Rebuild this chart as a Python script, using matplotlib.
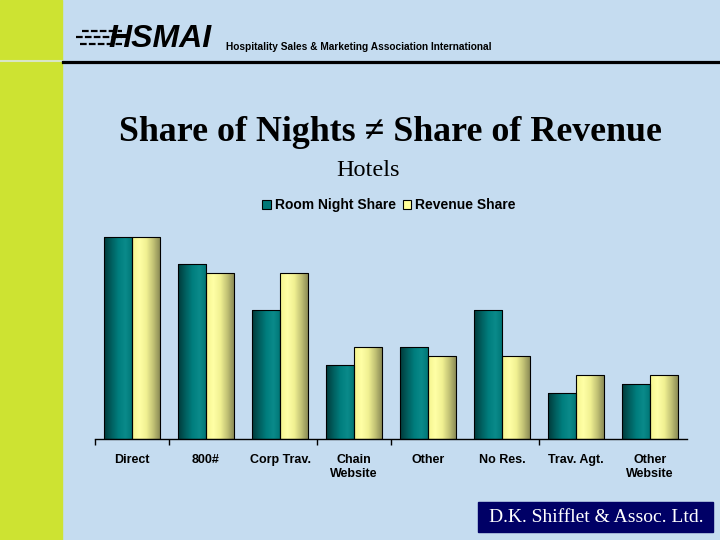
import numpy as np
import matplotlib.pyplot as plt
from matplotlib.colors import LinearSegmentedColormap
from matplotlib.patches import Rectangle, Patch
from matplotlib.lines import Line2D

categories = ["Direct", "800#", "Corp Trav.", "Chain\nWebsite", "Other",
              "No Res.", "Trav. Agt.", "Other\nWebsite"]
room_night_share = [22, 19, 14, 8, 10, 14, 5, 6]
revenue_share = [22, 18, 18, 10, 9, 9, 7, 7]
series_names = ["Room Night Share", "Revenue Share"]

BG = "#C5DCF0"
GREEN = "#CDE332"
TEAL = "#007878"
YELLOW = "#FFFF99"

teal_cmap = LinearSegmentedColormap.from_list(
    "teal", ["#003A3A", "#005E5E", "#007E7E", "#0A8A8A", "#007474"])
yellow_cmap = LinearSegmentedColormap.from_list(
    "yel", ["#F4F48E", "#FFFFA6", "#F0F092", "#C0C074", "#858552"])


def fig_px(x, y):
    return x / 720, 1 - y / 540


def gradient_bars(ax, bars, cmap):
    grad = np.linspace(0, 1, 64).reshape(1, -1)
    for b in bars:
        x0, w, h = b.get_x(), b.get_width(), b.get_height()
        im = ax.imshow(grad, cmap=cmap, extent=[x0, x0 + w, 0, h],
                       aspect="auto", zorder=2, interpolation="bilinear")
        im.set_clip_path(b)


def draw_header(fig):
    fig.patches.append(Rectangle((0, 0), 62 / 720, 1, transform=fig.transFigure,
                                 color=GREEN, zorder=0))
    fig.add_artist(Line2D([0, 62 / 720], [1 - 61 / 540] * 2, lw=1.5,
                          color="#D9E6C6"))
    fig.add_artist(Line2D([63 / 720, 1], [1 - 61.5 / 540] * 2, lw=2.3,
                          color="black"))
    for yy, x0 in [(31, 82), (37, 76), (44, 80)]:
        fig.add_artist(Line2D([x0 / 720, 122 / 720], [1 - yy / 540] * 2,
                              lw=1.6, color="black", ls=(0, (3, 1))))
    x, y = fig_px(108, 39)
    fig.text(x, y, "HSMAI", fontsize=23, weight="heavy", style="italic",
             family="Liberation Sans", va="center", ha="left")
    x, y = fig_px(226, 47)
    fig.text(x, y, "Hospitality Sales & Marketing Association International",
             fontsize=7.3, weight="bold", family="Liberation Sans",
             va="center", ha="left")


def draw_chart(fig):
    ax = fig.add_axes([95 / 720, 1 - 439 / 540, 592 / 720, 220.8 / 540])
    ax.set_facecolor("none")
    x = np.arange(len(categories))
    w = 0.385
    b1 = ax.bar(x - w / 2, room_night_share, w, facecolor="none",
                edgecolor="black", lw=0.8, zorder=3)
    b2 = ax.bar(x + w / 2, revenue_share, w, facecolor="none",
                edgecolor="black", lw=0.8, zorder=3)
    gradient_bars(ax, b1, teal_cmap)
    gradient_bars(ax, b2, yellow_cmap)
    ax.set_xlim(-0.5, len(categories) - 0.5)
    ax.set_ylim(0, 24)
    for s in ["top", "right", "left"]:
        ax.spines[s].set_visible(False)
    ax.spines["bottom"].set_linewidth(1)
    ax.set_yticks([])
    ax.set_xticks(x)
    ax.set_xticklabels(categories, fontsize=9, weight="bold",
                       family="Liberation Sans", linespacing=1.2, va="top")
    ax.tick_params(axis="x", which="major", length=0, pad=11)
    ax.set_xticks([-0.5, 0.5, 2.5, 3.5, 5.5], minor=True)
    ax.tick_params(axis="x", which="minor", length=4, width=1, direction="out")

    handles = [Patch(facecolor=TEAL, edgecolor="black", lw=0.8),
               Patch(facecolor=YELLOW, edgecolor="black", lw=0.8)]
    fig.legend(handles, series_names, loc="center", bbox_to_anchor=fig_px(389, 205),
               ncol=2, frameon=False, handlelength=0.6, handleheight=0.6,
               handletextpad=0.3, columnspacing=0.5,
               prop={"family": "Liberation Sans", "weight": "bold", "size": 10})
    return ax


def draw_titles(fig):
    serif = ["Liberation Serif", "DejaVu Serif"]
    x, y = fig_px(390, 133)
    fig.text(x, y, "Share of Nights \u2260 Share of Revenue", fontsize=25.8,
             weight="bold", family=serif, ha="center", va="center")
    x, y = fig_px(368, 170)
    fig.text(x, y, "Hotels", fontsize=17.5, family=serif, ha="center", va="center")

    x0, y0 = fig_px(478, 532)
    fig.patches.append(Rectangle((x0, y0), 235 / 720, 30 / 540,
                                 transform=fig.transFigure, color="#000066"))
    x, y = fig_px(596, 518)
    fig.text(x, y, "D.K. Shifflet & Assoc. Ltd.", fontsize=14, color="white",
             family=serif, ha="center", va="center")


if __name__ == "__main__":
    fig = plt.figure(figsize=(7.2, 5.4), dpi=100, facecolor=BG)
    draw_header(fig)
    draw_chart(fig)
    draw_titles(fig)
    fig.savefig("out.png", dpi=100, facecolor=BG)
